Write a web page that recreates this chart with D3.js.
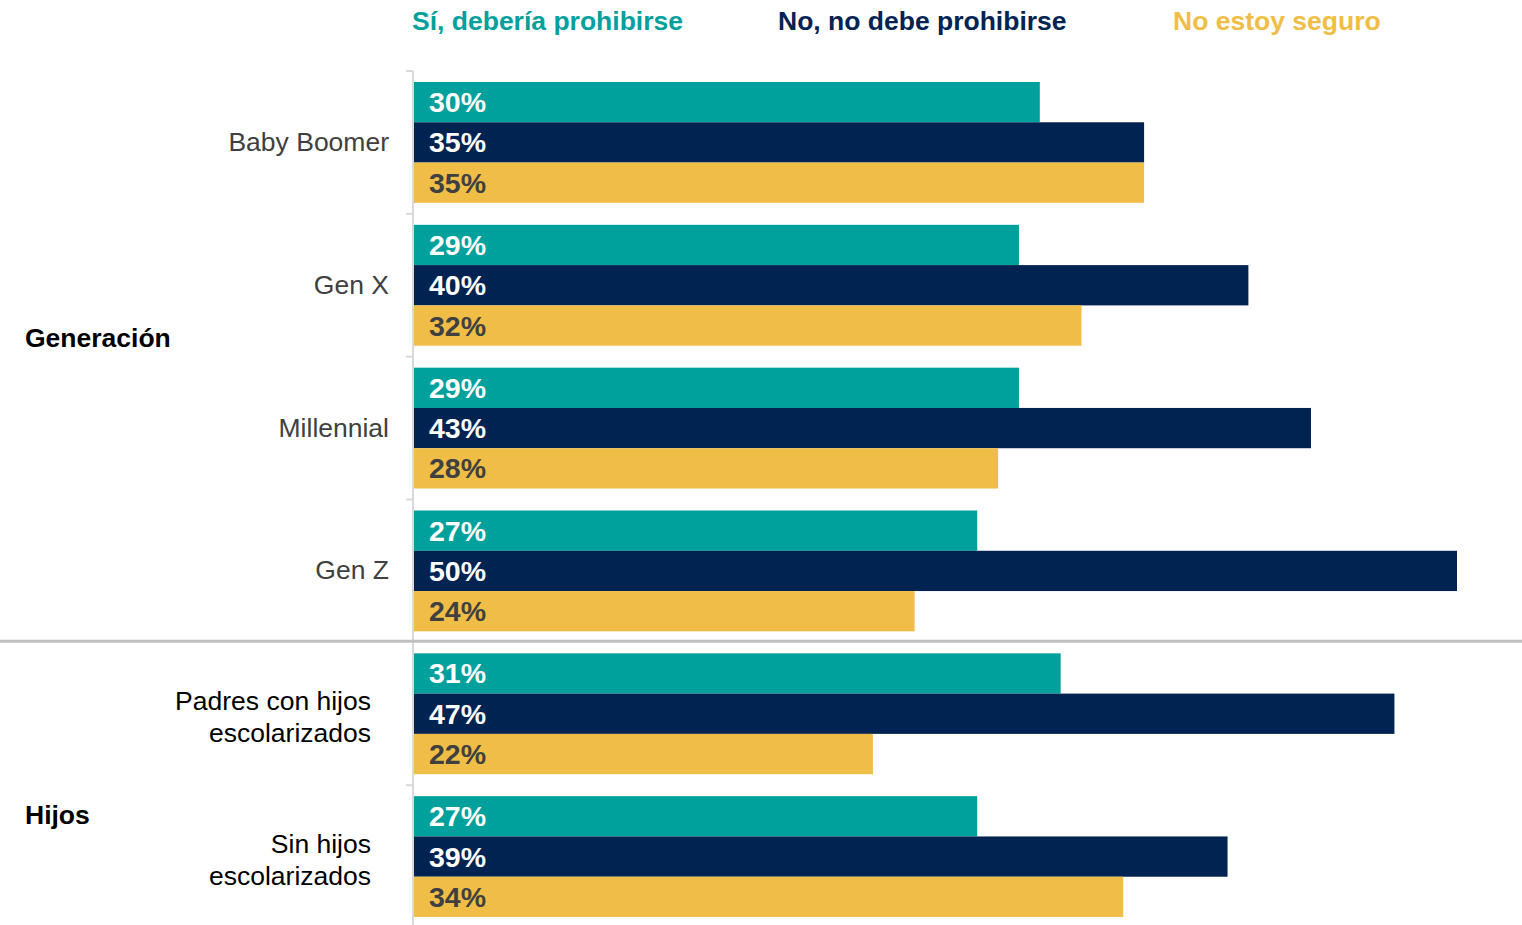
<!DOCTYPE html>
<html lang="es">
<head>
<meta charset="utf-8">
<script src="https://cdn.jsdelivr.net/npm/d3@7"></script>
<style>
  html, body { margin: 0; padding: 0; background: #ffffff; }
  svg { display: block; font-family: Arial, "Liberation Sans", sans-serif; }
</style>
</head>
<body>
<svg id="chart" width="1522" height="925"></svg>
<script>
// Categories (rows) and their two-line labels
const categories = ["Baby Boomer", "Gen X", "Millennial", "Gen Z", "Padres con hijos escolarizados", "Sin hijos escolarizados"];
const categoryLines = [["Baby Boomer"], ["Gen X"], ["Millennial"], ["Gen Z"], ["Padres con hijos", "escolarizados"], ["Sin hijos", "escolarizados"]];

// Group headings
const groupNames = ["Generación", "Hijos"];

// Series
const seriesNames = ["Sí, debería prohibirse", "No, no debe prohibirse", "No estoy seguro"];
const seriesSi = [30, 29, 29, 27, 31, 27];
const seriesNo = [35, 40, 43, 50, 47, 39];
const seriesInseguro = [35, 32, 28, 24, 22, 34];

const colors = ["#00A09C", "#002352", "#F0BE47"];
const labelColors = ["#ffffff", "#ffffff", "#404040"];

const seriesValues = [seriesSi, seriesNo, seriesInseguro];
const rows = [];
categories.forEach((c, i) => {
  seriesNames.forEach((s, j) => rows.push({ cat: c, series: s, idx: j, value: seriesValues[j][i] }));
});

const svg = d3.select("#chart");

const x = d3.scaleLinear().domain([0, 50]).range([414, 1457]);
const y0 = d3.scaleBand().domain(categories).range([71, 928]);
const y1 = d3.scaleBand().domain(seriesNames).range([11, y0.bandwidth() - 11]);

// Vertical axis line with band-boundary ticks
svg.append("line")
  .attr("x1", 413).attr("x2", 413)
  .attr("y1", y0.range()[0]).attr("y2", 925)
  .attr("stroke", "#d9d9d9").attr("stroke-width", 2);

const boundaries = categories.map(c => y0(c)).concat([y0.range()[1]]);
svg.selectAll("line.tick")
  .data(boundaries.filter(b => b < 925 && Math.abs(b - (y0(categories[4]))) > 1))
  .join("line")
  .attr("class", "tick")
  .attr("x1", 406).attr("x2", 413)
  .attr("y1", d => d).attr("y2", d => d)
  .attr("stroke", "#d9d9d9").attr("stroke-width", 2);

// Separator between the two groups
const sepY = y0(categories[4]) - 1;
svg.append("line")
  .attr("x1", 0).attr("x2", 1522)
  .attr("y1", sepY).attr("y2", sepY)
  .attr("stroke", "#c0c0c0").attr("stroke-width", 3);

// Bars
const g = svg.append("g");
g.selectAll("rect.bar")
  .data(rows)
  .join("rect")
  .attr("class", "bar")
  .attr("x", x(0))
  .attr("y", d => y0(d.cat) + y1(d.series))
  .attr("width", d => x(d.value) - x(0))
  .attr("height", y1.bandwidth())
  .attr("fill", d => colors[d.idx]);

// Value labels
g.selectAll("text.val")
  .data(rows)
  .join("text")
  .attr("class", "val")
  .attr("x", x(0) + 15)
  .attr("y", d => y0(d.cat) + y1(d.series) + y1.bandwidth() / 2 + 10)
  .attr("fill", d => labelColors[d.idx])
  .attr("font-size", 28.5)
  .attr("font-weight", "bold")
  .text(d => d.value + "%");

// Category labels
categories.forEach((c, i) => {
  const lines = categoryLines[i];
  const cy = y0(c) + y0.bandwidth() / 2;
  const t = svg.append("text")
    .attr("text-anchor", "end")
    .attr("font-size", 26.5)
    .attr("fill", lines.length > 1 ? "#000000" : "#404040");
  if (lines.length === 1) {
    t.append("tspan").attr("x", 389).attr("y", cy + 8.5).text(lines[0]);
  } else {
    lines.forEach((l, k) => {
      t.append("tspan").attr("x", 371).attr("y", cy - 3.5 + k * 32).text(l);
    });
  }
});

// Group headings
const groupY = [347, 824];
groupNames.forEach((n, k) => {
  svg.append("text")
    .attr("x", 25).attr("y", groupY[k])
    .attr("font-size", 26.5)
    .attr("font-weight", "bold")
    .attr("fill", "#000000")
    .text(n);
});

// Legend
const legendX = [412, 778, 1173];
svg.selectAll("text.legend")
  .data(seriesNames)
  .join("text")
  .attr("class", "legend")
  .attr("x", (d, i) => legendX[i])
  .attr("y", 30)
  .attr("font-size", 26.5)
  .attr("font-weight", "bold")
  .attr("fill", (d, i) => colors[i])
  .text(d => d);
</script>
</body>
</html>
